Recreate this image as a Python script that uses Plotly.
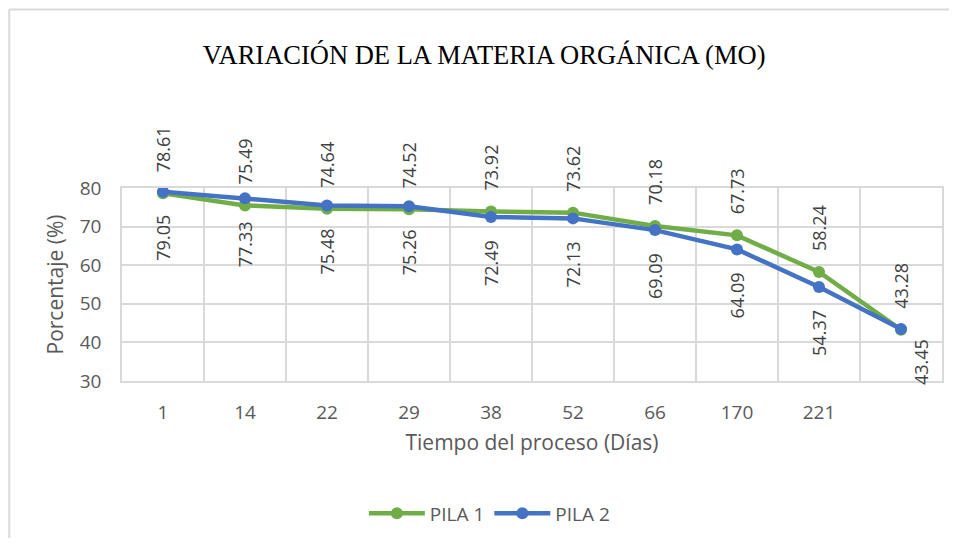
import plotly.graph_objects as go

dias = ["1", "14", "22", "29", "38", "52", "66", "170", "221", ""]
pila1 = [78.61, 75.49, 74.64, 74.52, 73.92, 73.62, 70.18, 67.73, 58.24, 43.28]
pila2 = [79.05, 77.33, 75.48, 75.26, 72.49, 72.13, 69.09, 64.09, 54.37, 43.45]

verde = "#70AD47"
azul = "#4472C4"
gris = "#595959"
fuente = "Open Sans, Liberation Sans, sans-serif"

pos = list(range(len(dias)))
bordes = [p - 0.5 for p in pos] + [pos[-1] + 0.5]

fig = go.Figure()
fig.add_trace(go.Scatter(x=pos, y=pila1, name="PILA 1", mode="lines+markers",
                         line=dict(color=verde, width=4.5),
                         marker=dict(color=verde, size=12)))
fig.add_trace(go.Scatter(x=pos, y=pila2, name="PILA 2", mode="lines+markers",
                         line=dict(color=azul, width=4.5),
                         marker=dict(color=azul, size=12)))

# etiquetas verticales: PILA 1 arriba, PILA 2 abajo
for i in pos:
    ultimo = i == pos[-1]
    fig.add_annotation(x=i, y=pila1[i], text=f"{pila1[i]:.2f}", textangle=-90,
                       showarrow=False, yanchor="bottom", yshift=19,
                       font=dict(family=fuente, size=18, color="#404040"))
    fig.add_annotation(x=i, y=pila2[i], text=f"{pila2[i]:.2f}", textangle=-90,
                       showarrow=False, yanchor="top",
                       yshift=-8 if ultimo else -21,
                       xshift=20 if ultimo else 0,
                       font=dict(family=fuente, size=18, color="#404040"))

# borde del grafico
fig.add_shape(type="line", xref="paper", yref="paper", x0=-0.1375, x1=1.05,
              y0=1.925, y1=1.925, line=dict(color="#D9D9D9", width=2))
fig.add_shape(type="line", xref="paper", yref="paper", x0=-0.1375, x1=-0.1375,
              y0=1.925, y1=-0.85, line=dict(color="#D9D9D9", width=2))

fig.update_layout(
    width=941, height=530,
    margin=dict(l=114, r=5, t=180, b=156),
    paper_bgcolor="white", plot_bgcolor="white",
    title=dict(text="VARIACIÓN DE LA MATERIA ORGÁNICA (MO)",
               font=dict(family="Liberation Serif, Times New Roman, serif", size=26.5, color="black"),
               x=0.506, xanchor="center", y=0.911, yanchor="middle"),
    font=dict(family=fuente, color=gris),
    xaxis=dict(range=[bordes[0], bordes[-1]], tickvals=pos, ticktext=dias,
               showgrid=False, zeroline=False,
               minor=dict(tickvals=bordes, showgrid=True, gridcolor="#D9D9D9",
                          gridwidth=1.5, ticks=""),
               showline=True, linecolor="#D9D9D9", linewidth=1.5, mirror=True,
               ticks="outside", ticklen=13, tickcolor="white",
               tickfont=dict(size=19, color=gris),
               title=dict(text="Tiempo del proceso (Días)", font=dict(size=21, color=gris),
                          standoff=12)),
    yaxis=dict(range=[30, 80], dtick=10, showgrid=True, gridcolor="#D9D9D9",
               gridwidth=1.5, showline=True, linecolor="#D9D9D9", linewidth=1.5,
               mirror=True, zeroline=False, ticks="outside", ticklen=15,
               tickcolor="white", tickfont=dict(size=19, color=gris),
               title=dict(text="Porcentaje (%)", font=dict(size=21, color=gris),
                          standoff=10)),
    legend=dict(orientation="h", x=0.448, xanchor="center", y=-0.686, yanchor="middle",
                itemwidth=56, font=dict(size=19, color=gris)),
    showlegend=True,
)

fig.write_html("out.html")
